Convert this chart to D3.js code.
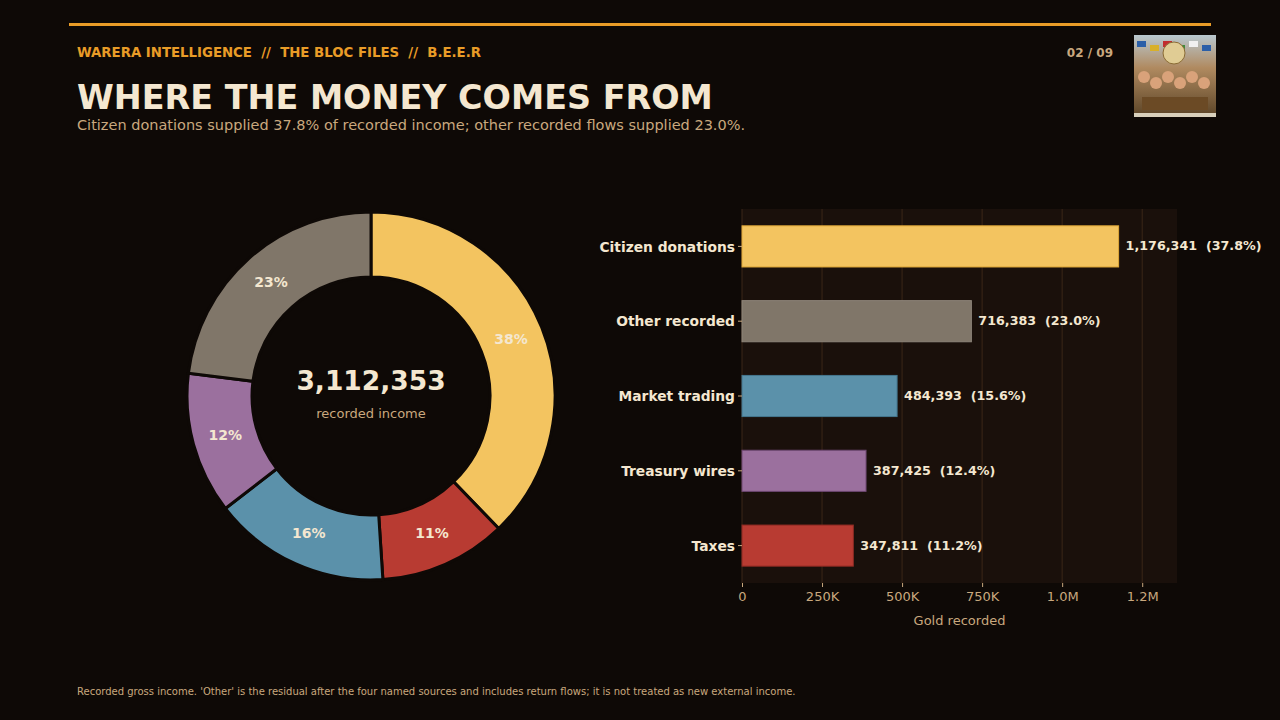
<!doctype html>
<html>
<head>
<meta charset="utf-8">
<style>
  html, body { margin: 0; padding: 0; background: #0e0906; }
  svg { display: block; font-family: "DejaVu Sans", sans-serif; }
</style>
</head>
<body>
<div id="root"></div>
<script src="https://d3js.org/d3.v7.min.js"></script>
<script>
// bar order (top to bottom)
var categories = ['Citizen donations', 'Other recorded', 'Market trading', 'Treasury wires', 'Taxes'];
var values = [1176341, 716383, 484393, 387425, 347811];
var colors = ['#f3c460', '#807669', '#5b91aa', '#9b709e', '#b83b32'];
var edges = ['#e0a838', '#8e857a', '#44768e', '#6e4872', '#8c2a23'];
// donut order (clockwise from top)
var donutOrder = ['Citizen donations', 'Taxes', 'Market trading', 'Treasury wires', 'Other recorded'];
var tickValues = [0, 250000, 500000, 750000, 1000000, 1250000];
var tickLabels = ['0', '250K', '500K', '750K', '1.0M', '1.2M'];

var total = d3.sum(values);
var cream = '#f4e7d0', tan = '#c9a87e', orange = '#e99c27';

var svg = d3.select('#root').append('svg')
  .attr('width', 1280)
  .attr('height', 720);

svg.append('rect').attr('width', 1280).attr('height', 720).attr('fill', '#0e0906');

// header
svg.append('rect').attr('x', 69).attr('y', 23).attr('width', 1142).attr('height', 3).attr('fill', orange);
svg.append('text').attr('x', 77).attr('y', 57).attr('fill', orange)
  .attr('font-size', 13.3).attr('font-weight', 'bold')
  .attr('xml:space', 'preserve')
  .text('WARERA INTELLIGENCE  //  THE BLOC FILES  //  B.E.E.R');
svg.append('text').attr('x', 1113).attr('y', 57).attr('fill', tan)
  .attr('font-size', 12).attr('font-weight', 'bold').attr('text-anchor', 'end')
  .text('02 / 09');

// badge placeholder (the reference shows a small illustration here)
var badge = svg.append('g').attr('transform', 'translate(1134,35)');
var grad = svg.append('defs').append('linearGradient').attr('id', 'bg').attr('x1', 0).attr('y1', 0).attr('x2', 0).attr('y2', 1);
grad.append('stop').attr('offset', '0%').attr('stop-color', '#b9c8cf');
grad.append('stop').attr('offset', '40%').attr('stop-color', '#b08a60');
grad.append('stop').attr('offset', '100%').attr('stop-color', '#5a4326');
badge.append('rect').attr('width', 82).attr('height', 82).attr('fill', 'url(#bg)');
var flagCols = ['#2b5fa8', '#d8b02a', '#c22d2d', '#3f8a3a', '#f0f0f0', '#2b5fa8'];
flagCols.forEach(function (c, i) {
  badge.append('rect').attr('x', 3 + i * 13).attr('y', 6 + (i % 2) * 4).attr('width', 9).attr('height', 6).attr('fill', c);
});
badge.append('circle').attr('cx', 40).attr('cy', 18).attr('r', 11).attr('fill', '#e0cc94').attr('stroke', '#8a6b35');
[10, 22, 34, 46, 58, 70].forEach(function (fx, i) {
  badge.append('circle').attr('cx', fx).attr('cy', 42 + (i % 2) * 6).attr('r', 6).attr('fill', '#d9a27a');
});
badge.append('rect').attr('x', 8).attr('y', 62).attr('width', 66).attr('height', 13).attr('fill', '#6b4a25');
badge.append('rect').attr('x', 0).attr('y', 78).attr('width', 82).attr('height', 4).attr('fill', '#d8d0bc');

// title
svg.append('text').attr('x', 77).attr('y', 109).attr('fill', cream)
  .attr('font-size', 33.4).attr('font-weight', 'bold')
  .text('WHERE THE MONEY COMES FROM');
svg.append('text').attr('x', 77).attr('y', 130).attr('fill', tan)
  .attr('font-size', 14.5)
  .text('Citizen donations supplied ' + (values[0] / total * 100).toFixed(1) +
        '% of recorded income; other recorded flows supplied ' + (values[1] / total * 100).toFixed(1) + '%.');

// donut
var cx = 371, cy = 396, rOuter = 184, rInner = 119;
var donutData = donutOrder.map(function (name) {
  var i = categories.indexOf(name);
  return { name: name, value: values[i], color: colors[i] };
});
var pie = d3.pie().sort(null).value(function (d) { return d.value; });
var arc = d3.arc().innerRadius(rInner).outerRadius(rOuter);
var labelArc = d3.arc().innerRadius(151).outerRadius(151);
var dg = svg.append('g').attr('transform', 'translate(' + cx + ',' + cy + ')');
var arcs = pie(donutData);
dg.selectAll('path').data(arcs).enter().append('path')
  .attr('d', arc)
  .attr('fill', function (d) { return d.data.color; })
  .attr('stroke', '#0e0906').attr('stroke-width', 3);
dg.selectAll('text.pct').data(arcs).enter().append('text')
  .attr('class', 'pct')
  .attr('transform', function (d) { return 'translate(' + labelArc.centroid(d) + ')'; })
  .attr('text-anchor', 'middle').attr('dy', '0.3em')
  .attr('fill', cream).attr('font-size', 14).attr('font-weight', 'bold')
  .text(function (d) { return Math.round(d.data.value / total * 100) + '%'; });
dg.append('text').attr('y', -16).attr('dy', '0.36em').attr('text-anchor', 'middle')
  .attr('fill', cream).attr('font-size', 26.5).attr('font-weight', 'bold')
  .text(d3.format(',')(total));
dg.append('text').attr('y', 18).attr('dy', '0.3em').attr('text-anchor', 'middle')
  .attr('fill', tan).attr('font-size', 13)
  .text('recorded income');

// bar chart
var x0 = 742, x1 = 1177, y0 = 209, y1 = 583;
var x = d3.scaleLinear().domain([0, d3.max(values) * 1.155]).range([x0, x1]);
var y = d3.scaleBand().domain(categories).range([y0, y1]).paddingInner(0.45).paddingOuter(0.225);

var bg = svg.append('g');
bg.append('rect').attr('x', x0).attr('y', y0).attr('width', x1 - x0).attr('height', y1 - y0).attr('fill', '#1a100b');
bg.selectAll('line.grid').data(tickValues).enter().append('line')
  .attr('class', 'grid')
  .attr('x1', function (d) { return x(d); }).attr('x2', function (d) { return x(d); })
  .attr('y1', y0).attr('y2', y1)
  .attr('stroke', '#3b2718').attr('stroke-width', 1);

bg.selectAll('rect.bar').data(categories).enter().append('rect')
  .attr('class', 'bar')
  .attr('x', x(0))
  .attr('y', function (d) { return y(d); })
  .attr('width', function (d, i) { return x(values[i]) - x(0); })
  .attr('height', y.bandwidth())
  .attr('fill', function (d, i) { return colors[i]; })
  .attr('stroke', function (d, i) { return edges[i]; }).attr('stroke-width', 1);

bg.selectAll('text.val').data(categories).enter().append('text')
  .attr('class', 'val')
  .attr('x', function (d, i) { return x(values[i]) + 7; })
  .attr('y', function (d) { return y(d) + y.bandwidth() / 2; })
  .attr('dy', '0.32em')
  .attr('xml:space', 'preserve')
  .attr('fill', cream).attr('font-size', 12.7).attr('font-weight', 'bold')
  .text(function (d, i) { return d3.format(',')(values[i]) + '  (' + (values[i] / total * 100).toFixed(1) + '%)'; });

var yAxis = d3.axisLeft(y).tickSize(4).tickPadding(3);
var ya = svg.append('g').attr('transform', 'translate(' + x0 + ',0)').call(yAxis);
ya.select('.domain').remove();
ya.selectAll('line').attr('stroke', tan);
ya.selectAll('text').attr('fill', cream).attr('font-size', 13.8).attr('font-weight', 'bold')
  .attr('dy', '0.38em')
  .attr('font-family', '"DejaVu Sans", sans-serif');

var xAxis = d3.axisBottom(x).tickValues(tickValues)
  .tickFormat(function (d, i) { return tickLabels[i]; }).tickSize(4).tickPadding(5);
var xa = svg.append('g').attr('transform', 'translate(0,' + y1 + ')').call(xAxis);
xa.select('.domain').remove();
xa.selectAll('line').attr('stroke', tan);
xa.selectAll('text').attr('fill', tan).attr('font-size', 13)
  .attr('font-family', '"DejaVu Sans", sans-serif');
svg.append('text').attr('x', (x0 + x1) / 2).attr('y', 625).attr('text-anchor', 'middle')
  .attr('fill', tan).attr('font-size', 13).text('Gold recorded');

// footer
svg.append('text').attr('x', 77).attr('y', 695).attr('fill', tan).attr('font-size', 10)
  .text("Recorded gross income. 'Other' is the residual after the four named sources and includes return flows; it is not treated as new external income.");
</script>
</body>
</html>
